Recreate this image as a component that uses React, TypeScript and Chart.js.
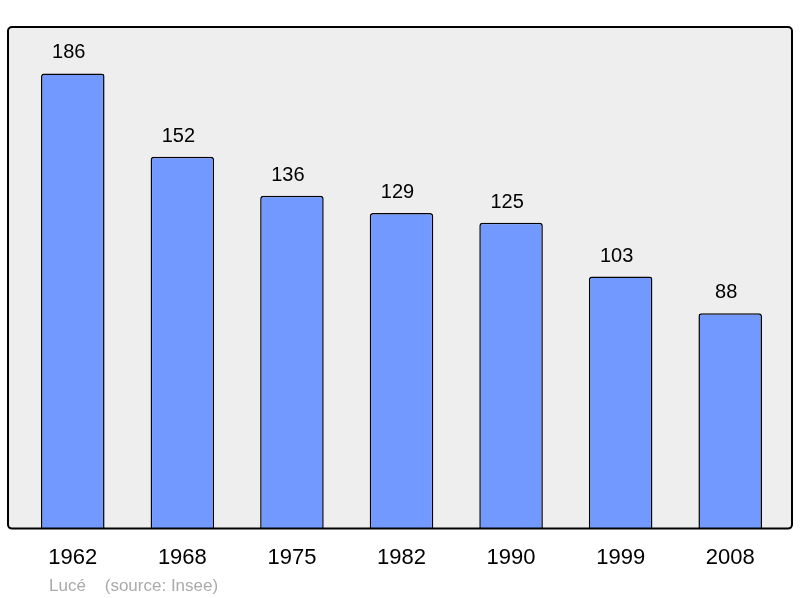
import React, { useEffect, useRef } from 'react';
import { Chart, registerables, Plugin } from 'chart.js';

Chart.register(...registerables);

const years = ['1962', '1968', '1975', '1982', '1990', '1999', '2008'];
const population = [186, 152, 136, 129, 125, 103, 88];
const footerText = 'Lucé    (source: Insee)';

const FONT = '"Liberation Sans", Arial, sans-serif';

// grey panel behind the bars, border drawn on top of them
const panelPlugin: Plugin<'bar'> = {
  id: 'panel',
  beforeDatasetsDraw(chart) {
    const { ctx, chartArea } = chart;
    const x = chartArea.left - 10;
    const w = chartArea.right + 7 - x;
    ctx.save();
    ctx.fillStyle = '#eeeeee';
    ctx.beginPath();
    ctx.roundRect(x, chartArea.top, w, chartArea.bottom - chartArea.top, 4);
    ctx.fill();
    ctx.restore();
  },
  afterDatasetsDraw(chart) {
    const { ctx, chartArea } = chart;
    const x = chartArea.left - 10;
    const w = chartArea.right + 7 - x;
    ctx.save();
    ctx.strokeStyle = '#000';
    ctx.lineWidth = 2;
    ctx.beginPath();
    ctx.roundRect(x, chartArea.top, w, chartArea.bottom - chartArea.top, 4);
    ctx.stroke();

    // value labels above each bar
    const meta = chart.getDatasetMeta(0);
    ctx.fillStyle = '#000';
    ctx.font = `20px ${FONT}`;
    ctx.textAlign = 'center';
    ctx.textBaseline = 'alphabetic';
    meta.data.forEach((bar, i) => {
      ctx.fillText(String(population[i]), bar.x - 4, bar.y - 15);
    });

    // footer
    ctx.fillStyle = '#aaaaaa';
    ctx.font = `17px ${FONT}`;
    ctx.textAlign = 'left';
    ctx.fillText(footerText, chartArea.left + 31, 591);
    ctx.restore();
  },
};

const App: React.FC = () => {
  const canvasRef = useRef<HTMLCanvasElement>(null);

  useEffect(() => {
    document.body.style.margin = '0';
    if (!canvasRef.current) return;
    const chart = new Chart(canvasRef.current, {
      type: 'bar',
      data: {
        labels: years,
        datasets: [
          {
            data: population,
            backgroundColor: '#7299ff',
            borderColor: '#000',
            borderWidth: 1.5,
            borderRadius: 3,
            borderSkipped: 'bottom',
            barPercentage: 0.58,
            categoryPercentage: 1,
          },
        ],
      },
      options: {
        responsive: false,
        animation: false,
        layout: { padding: { left: 18, right: 15, top: 27, bottom: 11 } },
        plugins: {
          legend: { display: false },
          tooltip: { enabled: false },
        },
        scales: {
          x: {
            grid: { display: false, drawTicks: false },
            border: { display: false },
            ticks: {
              color: '#000',
              padding: 16,
              font: { family: FONT, size: 22 },
            },
          },
          y: {
            display: false,
            min: 0,
            max: 205,
          },
        },
      },
      plugins: [panelPlugin],
    });
    return () => chart.destroy();
  }, []);

  return <canvas ref={canvasRef} width={800} height={598} style={{ display: 'block' }} />;
};

export default App;
